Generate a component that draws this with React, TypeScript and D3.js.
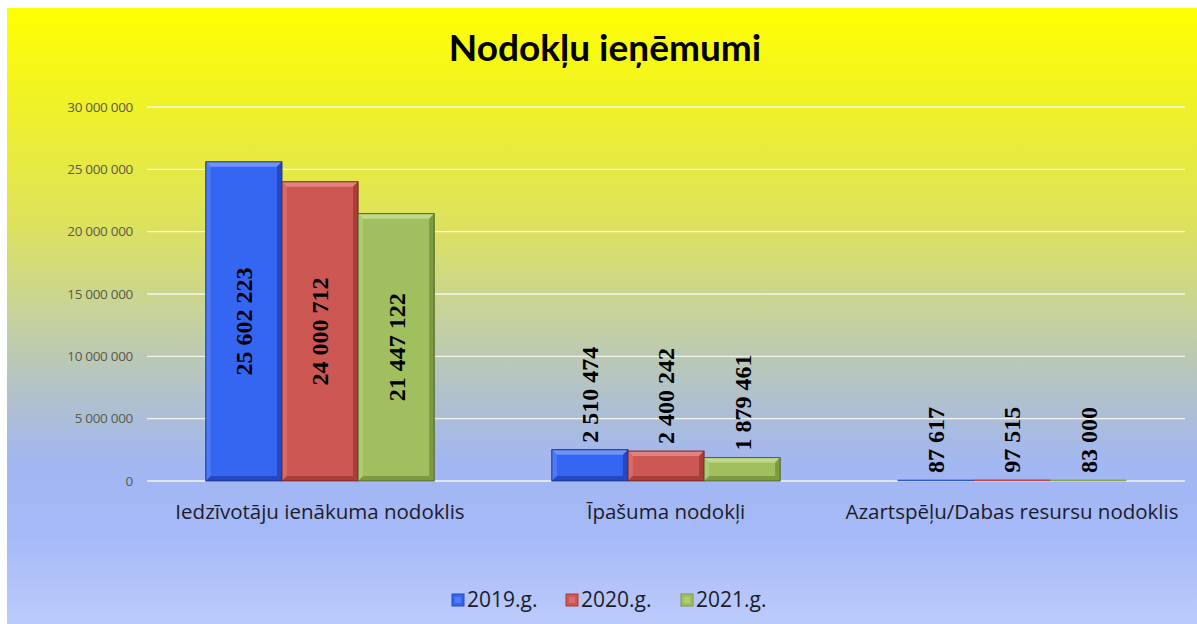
import React from "react";
import * as d3 from "d3";

const categories = [
  "Iedzīvotāju ienākuma nodoklis",
  "Īpašuma nodokļi",
  "Azartspēļu/Dabas resursu nodoklis",
];
const seriesNames = ["2019.g.", "2020.g.", "2021.g."];
const values2019 = [25602223, 2510474, 87617];
const values2020 = [24000712, 2400242, 97515];
const values2021 = [21447122, 1879461, 83000];
const yTicks = [0, 5000000, 10000000, 15000000, 20000000, 25000000, 30000000];
const title = "Nodokļu ieņēmumi";

const W = 1197;
const H = 624;
const plot = { left: 147, right: 1185, top: 107, bottom: 481 };

const palettes = [
  { main: "#3566f2", light: "#6f93f8", dark: "#2448c4", edge: "#17328a" },
  { main: "#cd5752", light: "#e2837f", dark: "#a83d39", edge: "#702422" },
  { main: "#a0bf5e", light: "#c1d98a", dark: "#7c9a42", edge: "#4e6224" },
];

const fmt = (v: number) => {
  const s = Math.round(v).toString();
  return s.replace(/\B(?=(\d{3})+(?!\d))/g, " ");
};

export default function App() {
  const series = [values2019, values2020, values2021];
  const x0 = d3
    .scaleBand<string>()
    .domain(categories)
    .range([plot.left, plot.right])
    .paddingInner(0.34)
    .paddingOuter(0.17);
  const x1 = d3
    .scaleBand<string>()
    .domain(seriesNames)
    .range([0, x0.bandwidth()])
    .padding(0);
  const y = d3.scaleLinear().domain([0, 30000000]).range([plot.bottom, plot.top]);

  const bev = 5;
  const labelFont = 24;
  const approxLen = (s: string) =>
    s.split("").reduce((a, c) => a + (c === " " ? 0.25 : 0.5), 0) * labelFont;

  return (
    <svg
      width={W}
      height={H}
      style={{ position: "absolute", left: 0, top: 0, display: "block" }}
    >
      <defs>
        <linearGradient id="bg" x1="0" y1="0" x2="0" y2="1">
          <stop offset="0" stopColor="#ffff00" />
          <stop offset="0.15" stopColor="#f0f226" />
          <stop offset="0.35" stopColor="#dde25c" />
          <stop offset="0.5" stopColor="#c6d29c" />
          <stop offset="0.62" stopColor="#b2c2c8" />
          <stop offset="0.74" stopColor="#a2b6f2" />
          <stop offset="0.85" stopColor="#a6b9f8" />
          <stop offset="1" stopColor="#bccbfc" />
        </linearGradient>
      </defs>
      <rect x={0} y={0} width={W} height={H} fill="#ffffff" />
      <rect x={7} y={8} width={W - 7} height={H - 8} fill="url(#bg)" />

      <text
        x={605}
        y={61}
        textAnchor="middle"
        fontFamily="Lato, 'Open Sans', sans-serif"
        fontWeight="bold"
        fontSize={37}
        fill="#000"
      >
        {title}
      </text>

      {yTicks.map((t) => (
        <g key={t}>
          <line
            x1={plot.left}
            x2={plot.right}
            y1={y(t)}
            y2={y(t)}
            stroke="#f4f4ee"
            strokeWidth={1.3}
          />
          <text
            x={133}
            y={y(t)}
            dy="0.35em"
            textAnchor="end"
            fontFamily="'Open Sans', sans-serif"
            fontSize={13.5}
            letterSpacing={-0.3}
            fill="#5a5a4a"
          >
            {fmt(t)}
          </text>
        </g>
      ))}

      {categories.map((c, ci) => (
        <g key={c}>
          {seriesNames.map((s, si) => {
            const v = series[si][ci];
            const bx = (x0(c) as number) + (x1(s) as number);
            const bw = x1.bandwidth();
            const by = y(v);
            const bh = plot.bottom - by;
            const p = palettes[si];
            const b = Math.min(bev, bh / 2, bw / 2);
            const label = fmt(v);
            const len = approxLen(label);
            const inside = bh > len + 20;
            const cx = bx + bw / 2;
            const ly = inside ? by + bh / 2 : by - 7;
            return (
              <g key={s}>
                <rect x={bx} y={by} width={bw} height={Math.max(bh, 0.5)} fill={p.main} />
                {bh > 3 && (
                  <>
                    <polygon
                      points={`${bx},${by} ${bx + bw},${by} ${bx + bw - b},${by + b} ${bx + b},${by + b}`}
                      fill={p.light}
                    />
                    <polygon
                      points={`${bx},${by} ${bx + b},${by + b} ${bx + b},${by + bh - b} ${bx},${by + bh}`}
                      fill={p.light}
                      opacity={0.45}
                    />
                    <polygon
                      points={`${bx + bw},${by} ${bx + bw},${by + bh} ${bx + bw - b},${by + bh - b} ${bx + bw - b},${by + b}`}
                      fill={p.dark}
                    />
                    <polygon
                      points={`${bx},${by + bh} ${bx + bw},${by + bh} ${bx + bw - b},${by + bh - b} ${bx + b},${by + bh - b}`}
                      fill={p.dark}
                    />
                  </>
                )}
                <rect
                  x={bx}
                  y={by}
                  width={bw}
                  height={Math.max(bh, 0.5)}
                  fill="none"
                  stroke={p.edge}
                  strokeWidth={bh > 3 ? 1 : 0.6}
                  opacity={bh > 3 ? 1 : 0.5}
                />
                <text
                  transform={`translate(${cx},${ly}) rotate(-90)`}
                  textAnchor={inside ? "middle" : "start"}
                  dy="0.35em"
                  fontFamily="'Liberation Serif', 'Times New Roman', serif"
                  fontWeight="bold"
                  fontSize={labelFont}
                  fill="#000"
                >
                  {label}
                </text>
              </g>
            );
          })}
          <text
            x={(x0(c) as number) + x0.bandwidth() / 2}
            y={512}
            dy="0.35em"
            textAnchor="middle"
            fontFamily="'Open Sans', sans-serif"
            fontSize={20.5}
            fill="#1c1c28"
          >
            {c}
          </text>
        </g>
      ))}

      {seriesNames.map((s, si) => {
        const lx = [452, 566, 681][si];
        const p = palettes[si];
        return (
          <g key={s}>
            <rect x={lx} y={594} width={12} height={12} fill={p.main} stroke={p.dark} strokeWidth={1} />
            <rect x={lx + 3} y={597} width={6} height={6} fill={p.light} opacity={0.5} />
            <text
              x={lx + 15}
              y={600}
              dy="0.35em"
              fontFamily="'Open Sans', sans-serif"
              fontSize={21}
              fill="#1c1c28"
            >
              {s}
            </text>
          </g>
        );
      })}
    </svg>
  );
}
